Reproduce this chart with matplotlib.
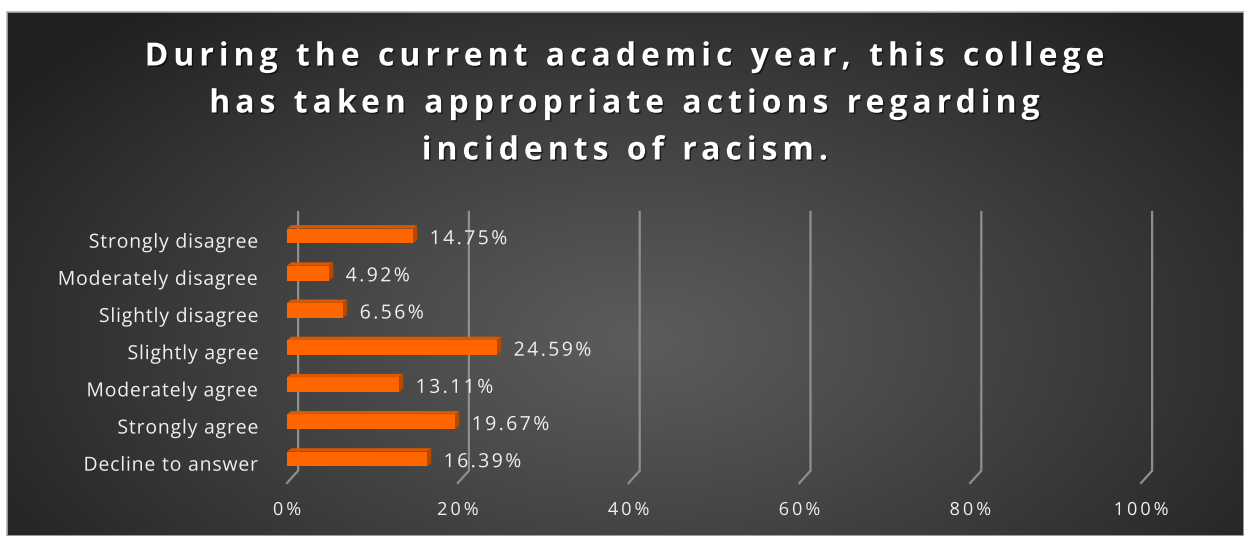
import numpy as np
import matplotlib
matplotlib.use("Agg")
import matplotlib.pyplot as plt
from matplotlib.patches import Polygon, Rectangle
from matplotlib.patheffects import AbstractPathEffect
from matplotlib.path import Path
from matplotlib.transforms import Affine2D
from matplotlib.textpath import TextToPath
from matplotlib.font_manager import FontProperties, findfont, get_font

categories = ["Strongly disagree", "Moderately disagree", "Slightly disagree",
              "Slightly agree", "Moderately agree", "Strongly agree", "Decline to answer"]
values = [14.75, 4.92, 6.56, 24.59, 13.11, 19.67, 16.39]
ticks = [0, 20, 40, 60, 80, 100]
tick_labels = ["0%", "20%", "40%", "60%", "80%", "100%"]
title_lines = ["During the current academic year, this college",
               "has taken appropriate actions regarding",
               "incidents of racism."]

FAMILY = "Open Sans"
_t2p = TextToPath()


class LetterSpacing(AbstractPathEffect):
    """Draws a text path with extra tracking between glyphs (and optional shadow)."""

    def __init__(self, text, prop, spacing_px, align="left", shadow=None):
        super().__init__()
        self.spacing_px = spacing_px
        self.align = align
        self.shadow = shadow
        try:
            font = get_font(findfont(prop))
            font.set_size(_t2p.FONT_SCALE, _t2p.DPI)
            info, _, _ = _t2p.get_glyphs_with_font(font, text)
            self.xs = np.array([g[1] for g in info], dtype=float)
        except Exception:
            self.xs = None

    def _spaced(self, tpath, affine):
        if self.xs is None or tpath.codes is None or len(self.xs) < 2:
            return tpath
        try:
            verts = np.array(tpath.vertices, dtype=float)
            codes = tpath.codes
            sx = affine.get_matrix()[0, 0]
            sp = self.spacing_px / sx
            n = len(self.xs)
            extra = (n - 1) * sp
            shift0 = {"left": 0.0, "center": -extra / 2, "right": -extra}[self.align]
            starts = list(np.flatnonzero(codes == Path.MOVETO)) + [len(codes)]
            for a, b in zip(starts[:-1], starts[1:]):
                cx = verts[a:b, 0].mean()
                k = int(np.clip(np.searchsorted(self.xs, cx, side="right") - 1, 0, n - 1))
                verts[a:b, 0] += k * sp + shift0
            return Path(verts, codes)
        except Exception:
            return tpath

    def draw_path(self, renderer, gc, tpath, affine, rgbFace=None):
        path = self._spaced(tpath, affine)
        if self.shadow is not None:
            (ox, oy), alpha = self.shadow
            gc0 = renderer.new_gc()
            gc0.copy_properties(gc)
            gc0.set_alpha(alpha)
            gc0.set_linewidth(0)
            off = affine + Affine2D().translate(ox, oy)
            renderer.draw_path(gc0, path, off, (0, 0, 0))
            gc0.restore()
        renderer.draw_path(gc, path, affine, rgbFace)


def spaced_text(axlike, x, y, s, size, spacing_px, ha="left", weight="normal",
                color="#eeeeee", shadow=None, **kw):
    prop = FontProperties(family=FAMILY, weight=weight, size=size)
    t = axlike.text(x, y, s, ha=ha, fontproperties=prop, color=color, **kw)
    t.set_path_effects([LetterSpacing(s, prop, spacing_px, align=ha, shadow=shadow)])
    return t


W, H = 1244, 536
fig = plt.figure(figsize=(W / 100, H / 100), dpi=100)
fig.patch.set_facecolor("white")

# background panel with radial gradient
pl, pt = 7, 12
bg = fig.add_axes([pl / W, 0, 1 - pl / W, 1 - pt / H])
ph, pw = H - pt, W - pl
yy, xx = np.mgrid[0:ph, 0:pw]
cx, cy = 640 - pl, 340 - pt
r = np.sqrt(((xx - cx) / 760) ** 2 + ((yy - cy) / 430) ** 2)
r = np.clip(r, 0, 1)
val = 0.36 - (0.36 - 0.13) * r ** 1.1
img = np.dstack([val, val, val])
bg.imshow(img, aspect="auto", interpolation="bilinear")
bg.set_axis_off()
fig.add_artist(Rectangle((pl / W, 0), 1 - pl / W, 1 - pt / H, transform=fig.transFigure,
                         fill=False, edgecolor="#b0b0b0", lw=1.2))

# main axes
ax = fig.add_axes([287 / W, 1 - 483 / H, 854 / W, 271 / H])
ax.set_facecolor("none")
ax.set_xlim(0, 100)
y0, y1 = -0.646, 6.645
ax.set_ylim(y0, y1)
ax.set_axis_off()

n = len(categories)
ypos = np.arange(n)[::-1]

# gridlines with 3D floor
dx, dy = 1.3, 0.33
for t in ticks:
    ax.plot([t, t + dx, t + dx], [y0, y0 + dy, y1], color="#8f8f8f", lw=1.6,
            zorder=1, clip_on=False, solid_joinstyle="miter")

# bars with 3D faces
h = 0.40
ddx, ddy = 0.5, 0.09
ax.barh(ypos, values, height=h, color="#FF6600", zorder=3)
for y, v in zip(ypos, values):
    top = [(0, y + h / 2), (v, y + h / 2), (v + ddx, y + h / 2 + ddy), (ddx, y + h / 2 + ddy)]
    side = [(v, y - h / 2), (v, y + h / 2), (v + ddx, y + h / 2 + ddy), (v + ddx, y - h / 2 + ddy)]
    ax.add_patch(Polygon(top, closed=True, facecolor="#DB5800", edgecolor="none", zorder=3))
    ax.add_patch(Polygon(side, closed=True, facecolor="#B44A00", edgecolor="none", zorder=3))
    lab = f"{v:.2f}%"
    prop = FontProperties(family=FAMILY, size=14)
    a = ax.annotate(lab, xy=(v, y - 0.22), xytext=(12, 0), textcoords="offset points",
                    ha="left", va="baseline", fontproperties=prop, color="#f0f0f0")
    a.set_path_effects([LetterSpacing(lab, prop, 2.4, align="left")])

# category labels
for y, c in zip(ypos, categories):
    spaced_text(ax, -3.3, y - 0.315, c, 14, 0.8, ha="right", va="baseline",
                color="#f0f0f0", clip_on=False)

# tick labels
for t, lab in zip(ticks, tick_labels):
    spaced_text(ax, t, -1.507, lab, 13, 3.0, ha="center", va="baseline",
                color="#f0f0f0", clip_on=False)

# title
for i, line in enumerate(title_lines):
    spaced_text(fig, 625 / W, 1 - (57 + 47 * i) / H, line, 23, 5.0, ha="center",
                va="center", weight="bold", color="white", shadow=((1.5, -1.5), 0.55))

fig.savefig("out.png", dpi=100)
